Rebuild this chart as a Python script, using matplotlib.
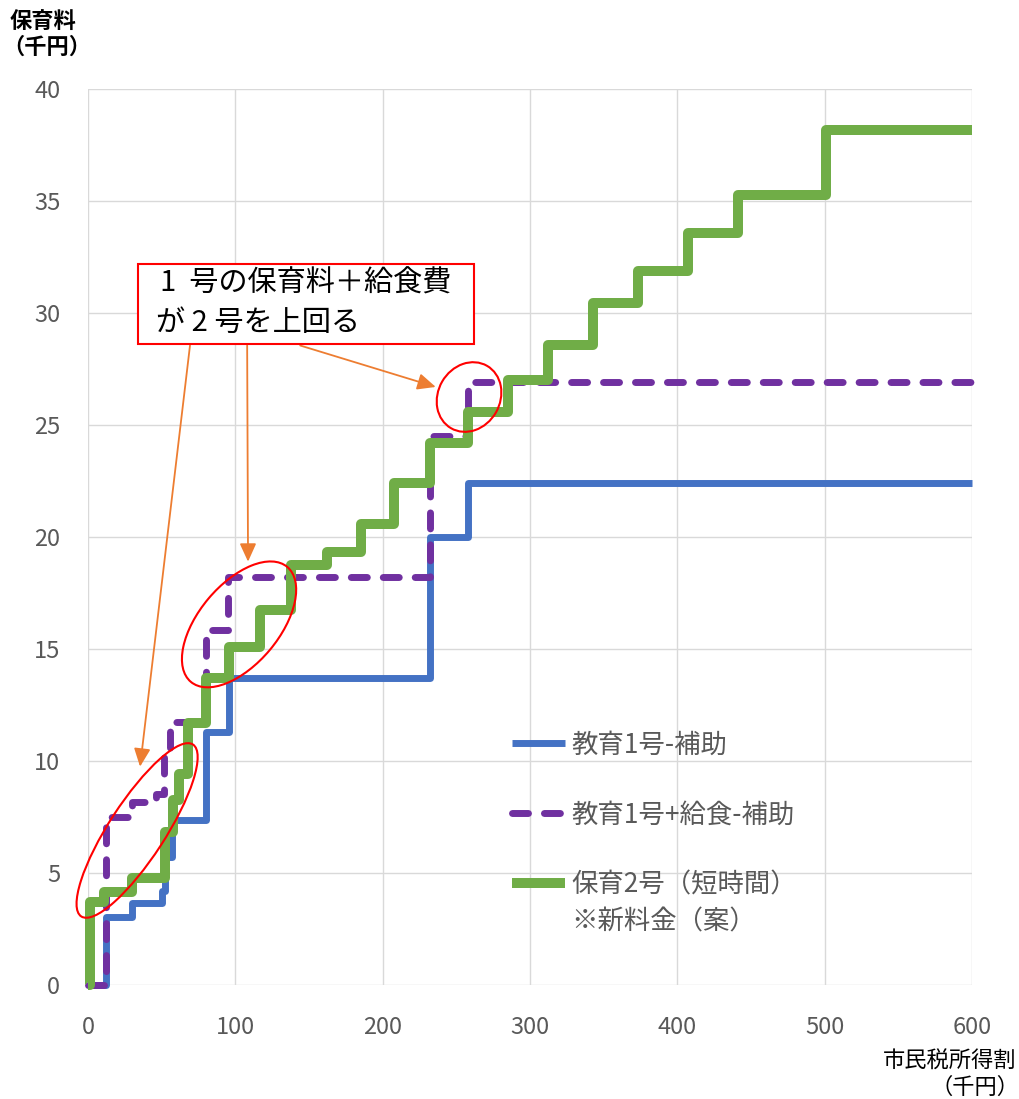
import matplotlib
matplotlib.use("Agg")
import matplotlib.pyplot as plt
from matplotlib.patches import Ellipse, Rectangle
from matplotlib.transforms import ScaledTranslation

plt.rcParams['font.family'] = ['Noto Sans CJK JP', 'DejaVu Sans']

# 市民税所得割 (千円) の区分ごとの保育料 (千円)
kyoiku1_x = [0, 12, 30, 50, 52, 57, 80, 96, 232, 258, 600]
kyoiku1_y = [0, 3.05, 3.66, 4.2, 5.7, 7.35, 11.3, 13.7, 20.0, 22.4, 22.4]

kyushoku_x = [0, 12, 30, 46, 51.5, 55.5, 80, 95, 232, 258, 600]
kyushoku_y = [0, 7.5, 8.18, 8.55, 10.2, 11.75, 15.85, 18.2, 24.5, 26.9, 26.9]

hoiku2_x = [0, 1, 11, 30, 52, 58, 62, 68, 80, 96, 117, 138, 162, 185, 208,
            232, 258, 285, 312, 343, 373, 407, 441, 501, 600]
hoiku2_y = [0, 3.72, 4.17, 4.8, 6.85, 8.26, 9.4, 11.7, 13.7, 15.1, 16.74,
            18.75, 19.35, 20.6, 22.4, 24.2, 25.6, 27.0, 28.57, 30.46, 31.87,
            33.58, 35.27, 38.17, 38.17]

labels = ['教育1号-補助', '教育1号+給食-補助', '保育2号（短時間）']
note = '※新料金（案）'

x_ticks = [0, 100, 200, 300, 400, 500, 600]
y_ticks = [0, 5, 10, 15, 20, 25, 30, 35, 40]

gray = '#595959'

fig = plt.figure(figsize=(10.19, 10.99), dpi=100)
ax = fig.add_axes([0.0864, 0.1037, 0.8675, 0.8153])

ax.step(kyoiku1_x, kyoiku1_y, where='post', color='#4472C4', lw=5,
        solid_joinstyle='round', solid_capstyle='butt', clip_on=False,
        label=labels[0], zorder=3)
ax.step(kyushoku_x, kyushoku_y, where='post', color='#7030A0', lw=5,
        dashes=(2.3, 2.3), dash_capstyle='round', dash_joinstyle='round',
        clip_on=False, label=labels[1], zorder=3.1)
ax.step(hoiku2_x, hoiku2_y, where='post', color='#70AD47', lw=7.2,
        solid_joinstyle='round', solid_capstyle='butt', clip_on=False,
        label=labels[2], zorder=3.2)

ax.set_xlim(0, 600)
ax.set_ylim(0, 40)
ax.set_xticks(x_ticks)
ax.set_yticks(y_ticks)
ax.grid(True, color='#D9D9D9', lw=1)
ax.set_axisbelow(True)
for s in ax.spines.values():
    s.set_visible(False)
ax.tick_params(length=0, labelsize=17, labelcolor=gray)
ax.tick_params(axis='x', pad=22)
ax.tick_params(axis='y', pad=20)

leg = ax.legend(loc='upper left', bbox_to_anchor=(0.48, 0.283), frameon=False,
                fontsize=19, handlelength=2.0, handletextpad=0.25,
                labelspacing=1.63, borderpad=0, borderaxespad=0)
for t in leg.get_texts():
    t.set_color(gray)
# 3つ目の凡例の2行目
ax.annotate(note, xy=(0, 0), xycoords=leg.get_texts()[2], xytext=(0, -7),
            textcoords='offset points', va='top', ha='left', fontsize=19,
            color=gray, zorder=8)

# 吹き出し
ax.add_patch(Rectangle((34, 28.6), 228, 3.6, fc='white', ec='#FF0000',
                       lw=1.5, zorder=6, clip_on=False))
ax.text(49, 31.3, '1  号の保育料＋給食費', fontsize=21, va='center', ha='left',
        zorder=7)
ax.text(46, 29.55, 'が 2 号を上回る', fontsize=21, va='center', ha='left',
        zorder=7)

arrows = [((69.2, 28.55), (35.3, 9.75)),
          ((108.0, 28.55), (108.6, 18.9)),
          ((144.0, 28.55), (236.0, 26.7))]
for start, end in arrows:
    ax.annotate('', xy=end, xytext=start,
                arrowprops=dict(arrowstyle='-|>,head_length=0.55,head_width=0.25',
                                color='#ED7D31', lw=1.3, mutation_scale=20,
                                shrinkA=0, shrinkB=0), zorder=5)

# 赤い楕円 (サイズはインチ)
rings = [(33.3, 6.9, 2.05, 0.56, 57),
         (102.5, 16.1, 1.5, 0.8, 50),
         (258.6, 26.25, 0.72, 0.62, 60)]
for cx, cy, w, h, ang in rings:
    tr = fig.dpi_scale_trans + ScaledTranslation(cx, cy, ax.transData)
    ax.add_patch(Ellipse((0, 0), w, h, angle=ang, transform=tr, fill=False,
                         ec='#FF0000', lw=1.5, zorder=5, clip_on=False))

fig.text(10 / 1019, 1 - 21 / 1099, '保育料', fontsize=16, fontweight='bold',
         va='center', ha='left')
fig.text(2 / 1019, 1 - 47 / 1099, '（千円）', fontsize=16, fontweight='bold',
         va='center', ha='left')
fig.text(1016 / 1019, 1 - 1061 / 1099, '市民税所得割', fontsize=16,
         va='center', ha='right')
fig.text(1019 / 1019, 1 - 1087 / 1099, '（千円）', fontsize=16,
         va='center', ha='right')

fig.savefig('out.png', dpi=100)
